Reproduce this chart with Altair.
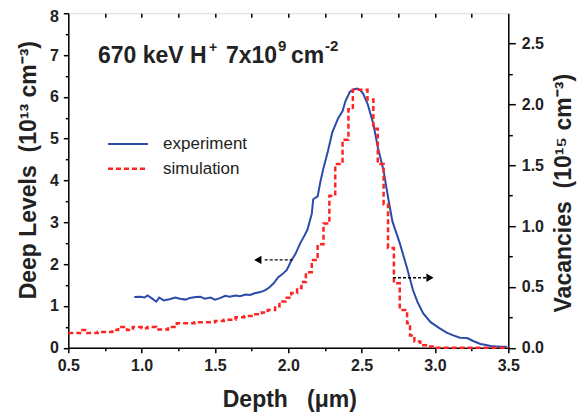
import altair as alt
import pandas as pd

# ---------------- data ----------------
exp_depth = [0.95, 0.99, 1.02, 1.04, 1.07, 1.10, 1.12, 1.15, 1.19, 1.23, 1.26, 1.30, 1.33, 1.37,
             1.40, 1.43, 1.47, 1.50, 1.53, 1.57, 1.60, 1.64, 1.67, 1.71, 1.74, 1.77, 1.81, 1.84,
             1.87, 1.90, 1.93, 1.96, 1.99, 2.02, 2.05, 2.08, 2.11, 2.13, 2.16, 2.17, 2.20, 2.22,
             2.24, 2.27, 2.30, 2.34, 2.37, 2.39, 2.42, 2.45, 2.47, 2.49, 2.51, 2.54, 2.58, 2.61,
             2.65, 2.68, 2.71, 2.76, 2.81, 2.85, 2.88, 2.92, 2.97, 3.00, 3.03, 3.08, 3.12, 3.17,
             3.22, 3.26, 3.31, 3.34, 3.38, 3.42, 3.46, 3.49]
exp_levels = [1.21, 1.22, 1.20, 1.25, 1.18, 1.10, 1.20, 1.13, 1.16, 1.20, 1.17, 1.15, 1.19, 1.21,
              1.22, 1.17, 1.20, 1.15, 1.18, 1.24, 1.22, 1.25, 1.23, 1.27, 1.26, 1.30, 1.33, 1.37,
              1.44, 1.54, 1.68, 1.76, 1.86, 2.08, 2.25, 2.49, 2.68, 2.82, 3.20, 3.55, 3.62, 3.99,
              4.30, 4.70, 5.15, 5.49, 5.66, 5.90, 6.12, 6.18, 6.20, 6.16, 6.08, 5.84, 5.35, 4.80,
              4.23, 3.60, 3.02, 2.50, 1.90, 1.38, 1.10, 0.82, 0.61, 0.54, 0.47, 0.36, 0.30, 0.24,
              0.23, 0.16, 0.09, 0.07, 0.04, 0.03, 0.02, 0.02]

sim_depth = [0.50, 0.58, 0.63, 0.70, 0.80, 0.84, 0.90, 0.94, 1.00, 1.04, 1.10, 1.18, 1.24, 1.30,
             1.36, 1.44, 1.50, 1.56, 1.64, 1.70, 1.76, 1.82, 1.86, 1.91, 1.94, 1.98, 2.02, 2.06,
             2.09, 2.12, 2.16, 2.20, 2.24, 2.28, 2.32, 2.37, 2.41, 2.44, 2.49, 2.54, 2.58, 2.61,
             2.65, 2.68, 2.72, 2.76, 2.81, 2.83, 2.86, 2.90, 2.95, 3.00, 3.50]
sim_vac = [0.12, 0.145, 0.12, 0.13, 0.145, 0.17, 0.145, 0.17, 0.16, 0.17, 0.15, 0.17, 0.20, 0.20,
           0.21, 0.21, 0.22, 0.23, 0.25, 0.26, 0.275, 0.29, 0.31, 0.34, 0.38, 0.41, 0.45, 0.49,
           0.54, 0.62, 0.72, 0.85, 1.02, 1.25, 1.51, 1.71, 1.96, 2.12, 2.12, 2.04, 1.80, 1.51,
           1.18, 0.82, 0.53, 0.31, 0.20, 0.10, 0.05, 0.02, 0.01, 0.0, 0.0]

x_major = [0.5, 1.0, 1.5, 2.0, 2.5, 3.0, 3.5]
x_minor = [0.75, 1.25, 1.75, 2.25, 2.75, 3.25]
x_top = [0.75, 1.0, 1.25, 1.5, 1.75, 2.0, 2.25, 2.5, 2.75, 3.0, 3.25]
yl_major = [0, 1, 2, 3, 4, 5, 6, 7, 8]
yl_minor = [0.5, 1.5, 2.5, 3.5, 4.5, 5.5, 6.5, 7.5]
yr_major = [0.0, 0.5, 1.0, 1.5, 2.0, 2.5]
yr_minor = [0.25, 0.75, 1.25, 1.75, 2.25]

# arrows (left arrow in Deep-Level units, right arrow in Vacancy units)
arrowL_from, arrowL_to, arrowL_y, arrowL_head = [2.03], [1.826], [2.10], [1.792]
arrowR_from, arrowR_to, arrowR_y, arrowR_head = [2.714], [2.94], [0.575], [2.966]

# legend
leg_labels = ["experiment", "\u00a0simulation"]
leg_x1 = [0.771, 0.771]
leg_x2 = [1.043, 1.043]
leg_y = [4.874, 4.279]
leg_text_x = [1.146, 1.146]

# header text pieces
title_text = ["670 keV H", "+", "7x10", "9", "cm", "-2"]
title_x = [0.7025, 1.4593, 1.5752, 1.9298, 2.0184, 2.2502]
title_y = [6.802, 7.064, 6.802, 7.088, 6.802, 7.088]
title_size = [23, 14, 23, 15, 23, 15]

BLUE = "#2b4ba8"
RED = "#ff2424"
INK = "#222222"
FONT = "Liberation Sans"
NB = "\u00a0"

xs = alt.Scale(domain=[0.5, 3.5], nice=False, zero=False)
yl = alt.Scale(domain=[0, 8], nice=False, zero=False)
yr = alt.Scale(domain=[0, 2.75], nice=False, zero=False)

common = dict(grid=False, domainColor="black", domainWidth=1.5, tickColor="black", tickWidth=1.5,
              labelFont=FONT, labelFontSize=16, labelFontWeight="bold", labelColor=INK,
              labelFlush=False, labelOverlap=False,
              titleFont=FONT, titleFontSize=23, titleFontWeight="bold", titleColor=INK)
minor = dict(grid=False, domain=False, labels=False, title=None, tickColor="black", tickWidth=1.5)

ax_bottom = alt.Axis(orient="bottom", values=x_major, format=".1f", tickSize=5, labelPadding=5,
                     title="Depth" + NB * 3 + "(μm)", titleX=221, titleY=59, titleAlign="center",
                     titleBaseline="alphabetic", **common)
ax_bottom_minor = alt.Axis(orient="bottom", values=x_minor, tickSize=3, **minor)
ax_top = alt.Axis(orient="top", values=x_top, tickSize=4, offset=-4, **minor)
ax_left = alt.Axis(orient="left", values=yl_major, format="d", tickSize=5, labelPadding=5,
                   labelOffset={"expr": "datum.value == 8 ? 3 : 0"},
                   title="Deep Levels" + NB * 2 + "(10¹³ cm⁻³)", titleAngle=270, titleX=-33,
                   titleY=156.5, titleAlign="center", titleBaseline="alphabetic", **common)
ax_left_minor = alt.Axis(orient="left", values=yl_minor, tickSize=3, **minor)
ax_right = alt.Axis(orient="right", values=yr_major, format=".1f", tickSize=7, labelPadding=6,
                    title="Vacancies" + NB * 2 + "(10¹⁵ cm⁻³)", titleAngle=270, titleX=62,
                    titleY=179.5, titleAlign="center", titleBaseline="alphabetic", **common)
ax_right_minor = alt.Axis(orient="right", values=yr_minor, tickSize=4, **minor)

exp_df = pd.DataFrame({"depth": exp_depth, "levels": exp_levels})
sim_df = pd.DataFrame({"depth": sim_depth, "vac": sim_vac})

blue = alt.Chart(exp_df).mark_line(color=BLUE, strokeWidth=2).encode(
    x=alt.X("depth:Q", scale=xs, axis=ax_bottom),
    y=alt.Y("levels:Q", scale=yl, axis=ax_left),
)

red = alt.Chart(sim_df).mark_line(color=RED, strokeWidth=2.5, strokeDash=[5, 3],
                                  interpolate="step-after").encode(
    x=alt.X("depth:Q", scale=xs, axis=None),
    y=alt.Y("vac:Q", scale=yr, axis=ax_right),
)

arrL_df = pd.DataFrame({"a": arrowL_from, "b": arrowL_to, "y": arrowL_y, "h": arrowL_head})
arrR_df = pd.DataFrame({"a": arrowR_from, "b": arrowR_to, "y": arrowR_y, "h": arrowR_head})

arrL = alt.Chart(arrL_df).mark_rule(color="black", strokeDash=[3, 2], strokeWidth=1.3).encode(
    x=alt.X("a:Q", scale=xs, axis=ax_bottom_minor), x2="b:Q",
    y=alt.Y("y:Q", scale=yl, axis=ax_left_minor),
)
arrLh = alt.Chart(arrL_df).mark_point(shape="triangle-left", filled=True, color="black",
                                      size=70, opacity=1).encode(
    x=alt.X("h:Q", scale=xs, axis=ax_top),
    y=alt.Y("y:Q", scale=yl, axis=None),
)
arrR = alt.Chart(arrR_df).mark_rule(color="black", strokeDash=[3, 2], strokeWidth=1.3).encode(
    x=alt.X("a:Q", scale=xs, axis=None), x2="b:Q",
    y=alt.Y("y:Q", scale=yr, axis=ax_right_minor),
)
arrRh = alt.Chart(arrR_df).mark_point(shape="triangle-right", filled=True, color="black",
                                      size=70, opacity=1).encode(
    x=alt.X("h:Q", scale=xs, axis=None),
    y=alt.Y("y:Q", scale=yr, axis=None),
)

leg_df = pd.DataFrame({"label": leg_labels, "x1": leg_x1, "x2": leg_x2, "y": leg_y, "tx": leg_text_x})
leg_blue = alt.Chart(leg_df.iloc[[0]]).mark_rule(color=BLUE, strokeWidth=2).encode(
    x=alt.X("x1:Q", scale=xs, axis=None), x2="x2:Q", y=alt.Y("y:Q", scale=yl, axis=None))
leg_red = alt.Chart(leg_df.iloc[[1]]).mark_rule(color=RED, strokeWidth=2.5, strokeDash=[5, 3]).encode(
    x=alt.X("x1:Q", scale=xs, axis=None), x2="x2:Q", y=alt.Y("y:Q", scale=yl, axis=None))
leg_text = alt.Chart(leg_df).mark_text(align="left", baseline="middle", font=FONT, fontSize=17,
                                       color=INK).encode(
    x=alt.X("tx:Q", scale=xs, axis=None), y=alt.Y("y:Q", scale=yl, axis=None), text="label:N")

title_df = pd.DataFrame({"t": title_text, "x": title_x, "y": title_y, "s": title_size})
header = alt.Chart(title_df).mark_text(align="left", baseline="alphabetic", font=FONT,
                                       fontWeight="bold", color=INK).encode(
    x=alt.X("x:Q", scale=xs, axis=None), y=alt.Y("y:Q", scale=yl, axis=None),
    text="t:N", size=alt.Size("s:Q", scale=None, legend=None))

chart = alt.layer(blue, arrL, arrLh, red, arrR, arrRh, leg_blue, leg_red, leg_text, header).resolve_scale(
    y="independent").resolve_axis(x="independent", y="independent").properties(
    width=440, height=334.5,
    autosize=alt.AutoSizeParams(type="none"),
    padding={"left": 60.3, "top": 5.2, "right": 70, "bottom": 64},
).configure_view(stroke="black", strokeWidth=1.5).configure(background="white")

chart.save("out.html", embed_options={"renderer": "svg", "actions": False})
